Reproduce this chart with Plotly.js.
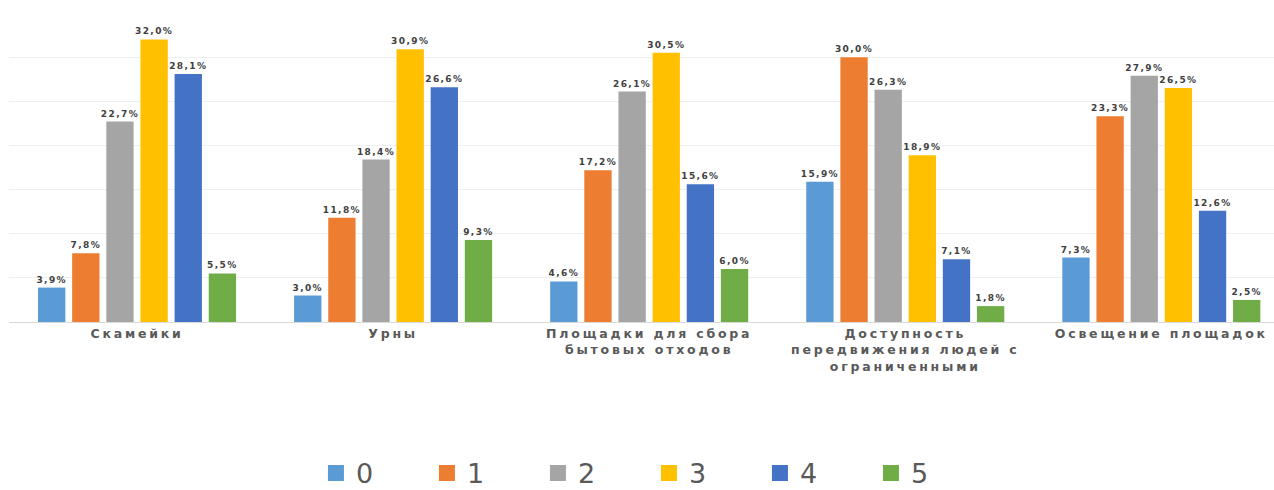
<!DOCTYPE html>
<html>
<head>
<meta charset="utf-8">
<script src="https://cdn.plot.ly/plotly-3.0.1.min.js"></script>
<style>
html,body{margin:0;padding:0;background:#fff;overflow:hidden}
#chart .xtick text{letter-spacing:2.8px}
#chart text.bartext{letter-spacing:1.4px}
</style>
</head>
<body>
<div id="chart" style="width:1274px;height:490px"></div>
<script>
const categories = [
  "Скамейки",
  "Урны",
  "Площадки для сбора<br>бытовых отходов",
  "Доступность<br>передвижения людей с<br>ограниченными",
  "Освещение площадок"
];
const seriesNames = ["0", "1", "2", "3", "4", "5"];
const s0 = [3.9, 3.0, 4.6, 15.9, 7.3];
const s1 = [7.8, 11.8, 17.2, 30.0, 23.3];
const s2 = [22.7, 18.4, 26.1, 26.3, 27.9];
const s3 = [32.0, 30.9, 30.5, 18.9, 26.5];
const s4 = [28.1, 26.6, 15.6, 7.1, 12.6];
const s5 = [5.5, 9.3, 6.0, 1.8, 2.5];
const seriesValues = [s0, s1, s2, s3, s4, s5];
const colors = ["#5b9bd5", "#ed7d31", "#a5a5a5", "#ffc000", "#4472c4", "#70ad47"];

const fmt = v => v.toFixed(1).replace('.', ',') + '%';

const traces = seriesValues.map((vals, i) => ({
  type: 'bar',
  name: seriesNames[i],
  legendgroup: seriesNames[i],
  showlegend: false,
  x: categories,
  y: vals,
  text: vals.map(fmt),
  textposition: 'outside',
  constraintext: 'none',
  cliponaxis: false,
  textfont: {family: 'DejaVu Sans', size: 9, color: '#404040', weight: 'bold'},
  marker: {color: colors[i]},
  hoverinfo: 'skip'
}));

// legend entries with larger square swatches
seriesNames.forEach((n, i) => {
  traces.push({
    type: 'scatter',
    mode: 'markers',
    name: n,
    legendgroup: n,
    showlegend: true,
    x: [null],
    y: [null],
    marker: {symbol: 'square', size: 22, color: colors[i]},
    hoverinfo: 'skip'
  });
});

const layout = {
  width: 1274,
  height: 490,
  margin: {l: 9, r: 0, t: 13, b: 168},
  paper_bgcolor: '#ffffff',
  plot_bgcolor: '#ffffff',
  barmode: 'group',
  bargap: 0.2,
  bargroupgap: 0.2,
  showlegend: true,
  legend: {
    orientation: 'h',
    xref: 'container',
    yref: 'container',
    x: 0.248, xanchor: 'left',
    y: 0.034, yanchor: 'middle',
    font: {family: 'DejaVu Sans', size: 27, color: '#595959'},
    entrywidth: 66,
    entrywidthmode: 'pixels',
    traceorder: 'normal'
  },
  xaxis: {
    type: 'category',
    range: [-0.5, 4.44],
    showgrid: false,
    showline: true,
    linecolor: '#d9d9d9',
    linewidth: 1,
    ticks: '',
    automargin: false,
    tickfont: {family: 'DejaVu Sans', size: 12.5, color: '#595959', weight: 'bold'},
    fixedrange: true
  },
  yaxis: {
    range: [0, 35],
    dtick: 5,
    showgrid: true,
    gridcolor: '#efefef',
    gridwidth: 1,
    showticklabels: false,
    zeroline: false,
    automargin: false,
    fixedrange: true
  }
};

Plotly.newPlot('chart', traces, layout, {displayModeBar: false, staticPlot: true});
</script>
</body>
</html>
